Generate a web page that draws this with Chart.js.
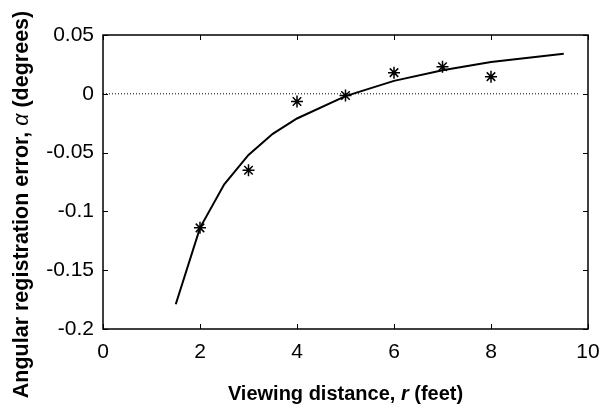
<!DOCTYPE html>
<html>
<head>
<meta charset="utf-8">
<script src="https://cdn.jsdelivr.net/npm/chart.js@4"></script>
<style>
  html, body { margin: 0; padding: 0; background: #fff; }
  #wrap { width: 605px; height: 409px; }
</style>
</head>
<body>
<div id="wrap"><canvas id="chartErr"></canvas></div>
<script>
// measured points (stars)
const measuredX = [2, 3, 4, 5, 6, 7, 8];
const measuredY = [-0.114, -0.065, -0.0066, -0.0015, 0.018, 0.023, 0.0146];

// fitted curve
const fitX = [1.5, 2, 2.5, 3, 3.5, 4, 5, 6, 7, 8, 9.5];
const fitY = [-0.179, -0.114, -0.077, -0.052, -0.034, -0.021, -0.002, 0.011, 0.020, 0.027, 0.034];

// dotted zero reference
const zeroX = [0, 9.8];
const zeroY = [0, 0];

const xTicks = [0, 2, 4, 6, 8, 10];
const yTicks = [-0.2, -0.15, -0.1, -0.05, 0, 0.05];

// axis titles, split so the symbol can be italic
const xTitle = [["Viewing distance, ", "bold"], ["r", "italic bold"], [" (feet)", "bold"]];
const yTitle = [["Angular registration error, ", "bold"], ["α", "italic"], [" (degrees)", "bold"]];

const FONT = "'Liberation Sans', Arial, sans-serif";

const toXY = (xs, ys) => xs.map((x, i) => ({ x: x, y: ys[i] }));

function drawRich(ctx, parts, size, cx, cy, rot) {
  ctx.save();
  ctx.translate(cx, cy);
  ctx.rotate(rot);
  ctx.fillStyle = "#000";
  ctx.textBaseline = "middle";
  ctx.textAlign = "left";
  let total = 0;
  parts.forEach(p => { ctx.font = p[1] + " " + size + "px " + FONT; total += ctx.measureText(p[0]).width; });
  let x = -total / 2;
  parts.forEach(p => {
    ctx.font = p[1] + " " + size + "px " + FONT;
    ctx.fillText(p[0], x, 0);
    x += ctx.measureText(p[0]).width;
  });
  ctx.restore();
}

// box + inward ticks, matlab style, plus titles
const boxTicks = {
  id: "boxTicks",
  afterDatasetsDraw(chart) {
    const { ctx, chartArea: a, scales } = chart;
    const len = 5;
    ctx.save();
    ctx.strokeStyle = "#000";
    ctx.lineWidth = 1.5;
    ctx.strokeRect(a.left, a.top, a.right - a.left, a.bottom - a.top);
    ctx.lineWidth = 1;
    ctx.beginPath();
    xTicks.forEach(v => {
      const px = Math.round(scales.x.getPixelForValue(v)) + 0.5;
      ctx.moveTo(px, a.bottom); ctx.lineTo(px, a.bottom - len);
      ctx.moveTo(px, a.top); ctx.lineTo(px, a.top + len);
    });
    yTicks.forEach(v => {
      const py = Math.round(scales.y.getPixelForValue(v)) + 0.5;
      ctx.moveTo(a.left, py); ctx.lineTo(a.left + len, py);
      ctx.moveTo(a.right, py); ctx.lineTo(a.right - len, py);
    });
    ctx.stroke();
    ctx.restore();

    drawRich(ctx, xTitle, 20, (a.left + a.right) / 2, 394, 0);
    drawRich(ctx, yTitle, 21.5, 22, chart.height / 2, -Math.PI / 2);
  }
};

new Chart("chartErr", {
  type: "scatter",
  data: {
    datasets: [
      {
        label: "zero",
        data: toXY(zeroX, zeroY),
        showLine: true,
        borderColor: "#000",
        borderWidth: 1,
        borderDash: [1, 2],
        pointRadius: 0,
      },
      {
        label: "fit",
        data: toXY(fitX, fitY),
        showLine: true,
        borderColor: "#000",
        borderWidth: 2,
        pointRadius: 0,
        tension: 0,
      },
      {
        label: "measured",
        data: toXY(measuredX, measuredY),
        showLine: false,
        pointStyle: "star",
        pointRadius: 6,
        borderColor: "#000",
        borderWidth: 1.5,
        backgroundColor: "#000",
      },
    ],
  },
  options: {
    responsive: true,
    maintainAspectRatio: false,
    animation: false,
    layout: { padding: { top: 35, right: 17, left: 0, bottom: 0 } },
    plugins: {
      legend: { display: false },
      tooltip: { enabled: false },
    },
    scales: {
      x: {
        type: "linear",
        min: 0,
        max: 10,
        afterBuildTicks: s => { s.ticks = xTicks.map(v => ({ value: v })); },
        afterFit: s => { s.height = 80; s.paddingLeft = 0; s.paddingRight = 0; },
        grid: { drawOnChartArea: false, drawTicks: false },
        border: { display: false },
        ticks: {
          color: "#000",
          padding: 11,
          font: { family: FONT, size: 21 },
        },
        title: { display: false },
      },
      y: {
        type: "linear",
        min: -0.2,
        max: 0.05,
        afterBuildTicks: s => { s.ticks = yTicks.map(v => ({ value: v })); },
        afterFit: s => { s.width = 103; s.paddingTop = 0; s.paddingBottom = 0; },
        grid: { drawOnChartArea: false, drawTicks: false },
        border: { display: false },
        ticks: {
          color: "#000",
          padding: 9,
          font: { family: FONT, size: 21 },
          callback: v => String(Number(v.toFixed(2))),
        },
        title: { display: false },
      },
    },
  },
  plugins: [boxTicks],
});
</script>
</body>
</html>
